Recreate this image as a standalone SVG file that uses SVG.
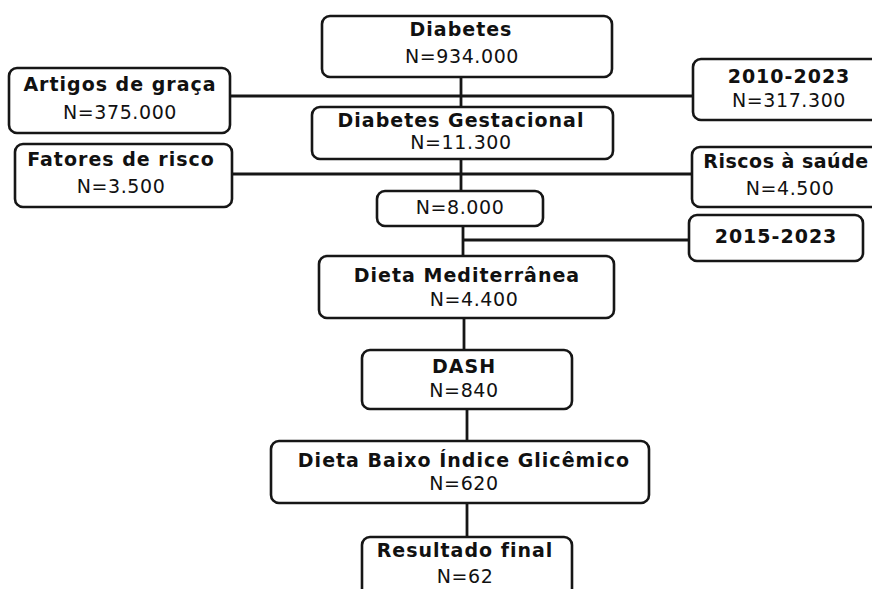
<svg xmlns="http://www.w3.org/2000/svg" width="872" height="589" viewBox="0 0 872 589">
<style>
.box{fill:#fff;stroke:#161616;stroke-width:2.6}
.ln{stroke:#161616;stroke-width:2.8;fill:none}
.t{font-family:"DejaVu Sans",sans-serif;font-weight:700;font-size:19px;fill:#111;text-anchor:middle;letter-spacing:1px}
.n{font-family:"DejaVu Sans",sans-serif;font-weight:400;font-size:19px;fill:#111;text-anchor:middle;letter-spacing:0.6px}
</style>
<rect width="872" height="589" fill="#fff"/>
<g id="connectors">
<line class="ln" x1="461" y1="77" x2="461" y2="107"/>
<line class="ln" x1="230" y1="96" x2="693" y2="96"/>
<line class="ln" x1="461" y1="159" x2="461" y2="191"/>
<line class="ln" x1="232" y1="174" x2="692" y2="174"/>
<line class="ln" x1="463" y1="226" x2="463" y2="256"/>
<line class="ln" x1="463" y1="240" x2="689" y2="240"/>
<line class="ln" x1="464" y1="318" x2="464" y2="350"/>
<line class="ln" x1="467" y1="409" x2="467" y2="441"/>
<line class="ln" x1="467" y1="503" x2="467" y2="537"/>
</g>
<g id="diabetes"><rect class="box" x="322" y="16" width="290" height="61" rx="8"/><text class="t" x="461" y="36">Diabetes</text><text class="n" x="462" y="63">N=934.000</text></g>
<g id="artigos"><rect class="box" x="9" y="68" width="221" height="65" rx="8"/><text class="t" x="120" y="91">Artigos de graça</text><text class="n" x="120" y="119">N=375.000</text></g>
<g id="periodo1"><rect class="box" x="693" y="59" width="194" height="61" rx="8"/><text class="t" x="789" y="83">2010-2023</text><text class="n" x="789" y="107">N=317.300</text></g>
<g id="gestacional"><rect class="box" x="312" y="107" width="301" height="52" rx="8"/><text class="t" x="461" y="127">Diabetes Gestacional</text><text class="n" x="461" y="149">N=11.300</text></g>
<g id="fatores"><rect class="box" x="15" y="144" width="217" height="63" rx="8"/><text class="t" x="121" y="166">Fatores de risco</text><text class="n" x="121" y="193">N=3.500</text></g>
<g id="riscos"><rect class="box" x="692" y="147" width="196" height="60" rx="8"/><text class="t" x="786" y="168" style="letter-spacing:0.5px">Riscos à saúde</text><text class="n" x="790" y="195">N=4.500</text></g>
<g id="n8000"><rect class="box" x="377" y="191" width="166" height="35" rx="8"/><text class="n" x="460" y="214">N=8.000</text></g>
<g id="periodo2"><rect class="box" x="689" y="215" width="174" height="46" rx="8"/><text class="t" x="776" y="243">2015-2023</text></g>
<g id="mediterranea"><rect class="box" x="319" y="256" width="295" height="62" rx="8"/><text class="t" x="467" y="282">Dieta Mediterrânea</text><text class="n" x="474" y="306">N=4.400</text></g>
<g id="dash"><rect class="box" x="362" y="350" width="210" height="59" rx="8"/><text class="t" x="464" y="373">DASH</text><text class="n" x="464" y="397">N=840</text></g>
<g id="baixo"><rect class="box" x="271" y="441" width="378" height="62" rx="8"/><text class="t" x="464" y="467">Dieta Baixo Índice Glicêmico</text><text class="n" x="464" y="490">N=620</text></g>
<g id="resultado"><rect class="box" x="362" y="537" width="210" height="70" rx="8"/><text class="t" x="465" y="557">Resultado final</text><text class="n" x="465" y="583">N=62</text></g>
</svg>
